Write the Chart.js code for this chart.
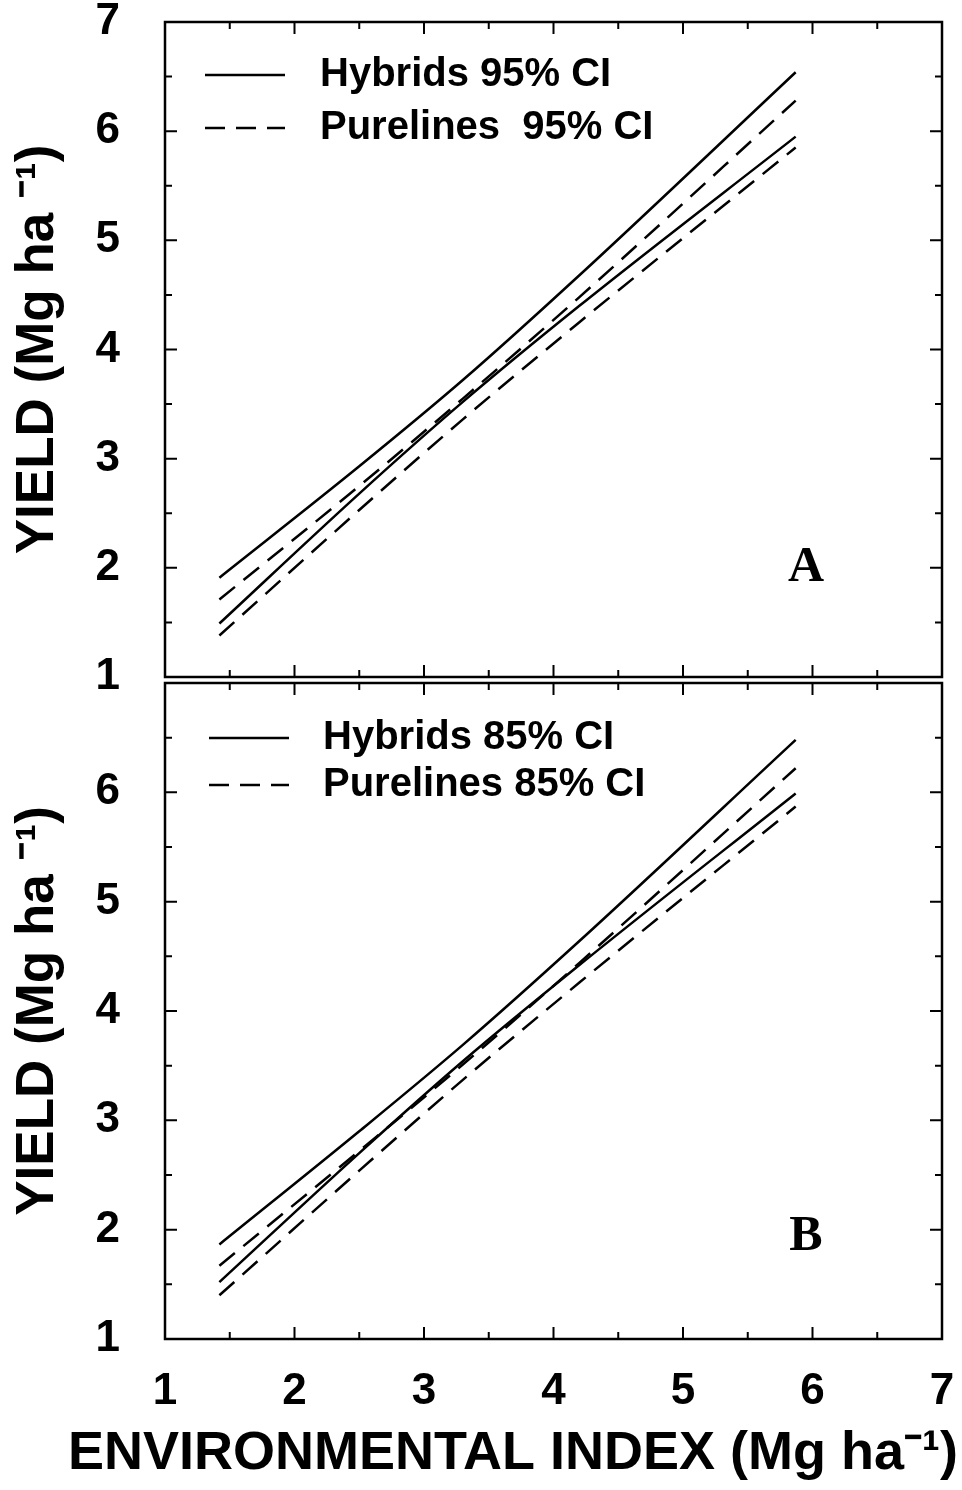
<!DOCTYPE html>
<html>
<head>
<meta charset="utf-8">
<script src="https://cdn.jsdelivr.net/npm/chart.js@4.4.1/dist/chart.umd.min.js"></script>
<style>
  html, body { margin: 0; padding: 0; background: #fff; }
  #wrap { position: relative; width: 962px; height: 1490px; }
  canvas { position: absolute; left: 0; }
  #panelA { top: 0; }
  #panelB { top: 660px; }
</style>
</head>
<body>
<div id="wrap">
  <canvas id="panelA" width="962" height="720"></canvas>
  <canvas id="panelB" width="962" height="830"></canvas>
</div>
<script>
const envIndex = [1.42, 2.5, 3.3, 4.2, 5.87];

// Panel A - 95% confidence limits (Mg/ha)
const hybUpperA  = [1.91, 2.93, 3.72, 4.68, 6.54];
const hybLowerA  = [1.49, 2.68, 3.52, 4.40, 5.95];
const pureUpperA = [1.71, 2.75, 3.55, 4.48, 6.28];
const pureLowerA = [1.38, 2.53, 3.36, 4.25, 5.85];

// Panel B - 85% confidence limits (Mg/ha)
const hybUpperB  = [1.865, 2.90, 3.69, 4.64, 6.48];
const hybLowerB  = [1.52, 2.70, 3.54, 4.42, 5.99];
const pureUpperB = [1.67, 2.72, 3.51, 4.44, 6.22];
const pureLowerB = [1.40, 2.54, 3.37, 4.26, 5.87];

const axisTicks = [1, 2, 3, 4, 5, 6, 7];

const FONT = '"Liberation Sans", Arial, sans-serif';
Chart.defaults.font.family = FONT;
Chart.defaults.color = '#000';
Chart.defaults.animation = false;

function band(label, ys, dashed, inLegend) {
    return {
        label: label,
        data: envIndex.map((x, i) => ({ x: x, y: ys[i] })),
        borderColor: '#000',
        borderWidth: 2.5,
        borderDash: dashed ? [20, 11] : [],
        pointRadius: 0,
        fill: false,
        cubicInterpolationMode: 'monotone',
        inLegend: inLegend,
    };
}

// the tick labels sit far from the axis, so drop the extra edge padding chart.js reserves for them
function noEdgePadding(s) {
    s.paddingTop = 0;
    s.paddingBottom = 0;
    s.paddingLeft = 0;
    s.paddingRight = 0;
}

// box around the plot plus inward ticks on all four sides
const frameTicks = {
    id: 'frameTicks',
    afterDatasetsDraw(chart) {
        const { ctx, chartArea: a, scales: { x, y } } = chart;
        ctx.save();
        ctx.strokeStyle = '#000';
        ctx.lineWidth = 2.5;
        ctx.strokeRect(a.left, a.top, a.right - a.left, a.bottom - a.top);
        ctx.lineWidth = 2;
        ctx.beginPath();
        for (let v = 1.5; v < 7; v += 0.5) {
            const len = Number.isInteger(v) ? 12 : 7;
            const px = x.getPixelForValue(v);
            const py = y.getPixelForValue(v);
            ctx.moveTo(px, a.bottom); ctx.lineTo(px, a.bottom - len);
            ctx.moveTo(px, a.top); ctx.lineTo(px, a.top + len);
            ctx.moveTo(a.left, py); ctx.lineTo(a.left + len, py);
            ctx.moveTo(a.right, py); ctx.lineTo(a.right - len, py);
        }
        ctx.stroke();
        ctx.restore();
    }
};

// legend drawn inside the plot, one row per flagged dataset
const bandLegend = {
    id: 'bandLegend',
    afterDraw(chart, args, opts) {
        const { ctx, chartArea: a } = chart;
        const items = chart.data.datasets.filter(ds => ds.inLegend);
        ctx.save();
        ctx.font = 'bold 40px ' + FONT;
        ctx.textBaseline = 'middle';
        ctx.fillStyle = '#000';
        ctx.strokeStyle = '#000';
        ctx.lineWidth = 2.5;
        items.forEach((ds, i) => {
            const yy = a.top + opts.rowTop + i * opts.rowGap;
            ctx.setLineDash(ds.borderDash);
            ctx.beginPath();
            ctx.moveTo(a.left + opts.lineStart, yy);
            ctx.lineTo(a.left + opts.lineStart + 80, yy);
            ctx.stroke();
            ctx.setLineDash([]);
            ctx.fillText(ds.label, a.left + opts.textStart, yy);
        });
        // panel letter
        ctx.font = 'bold 50px "Liberation Serif", "Times New Roman", serif';
        ctx.textAlign = 'center';
        ctx.fillText(opts.letter,
            chart.scales.x.getPixelForValue(opts.letterAt[0]),
            chart.scales.y.getPixelForValue(opts.letterAt[1]));
        ctx.restore();
    }
};

function createPanel(canvasId, datasets, cfg) {
    const ctx = document.getElementById(canvasId);
    if (!ctx) return;
    return new Chart(ctx, {
        type: 'line',
        data: { datasets: datasets },
        plugins: [frameTicks, bandLegend],
        options: {
            responsive: false,
            layout: { padding: { top: cfg.padTop, left: 0, right: 4, bottom: 0 } },
            plugins: {
                legend: { display: false },
                tooltip: { enabled: false },
                title: cfg.xTitle ? {
                    display: true,
                    text: 'ENVIRONMENTAL INDEX (Mg ha\u207B\u00B9)',
                    position: 'bottom',
                    align: 'end',
                    font: { size: 54, weight: 'bold', lineHeight: 1.2 },
                    padding: { top: 0, bottom: 3 },
                } : { display: false },
                bandLegend: cfg.legend,
            },
            scales: {
                x: {
                    type: 'linear',
                    min: 1,
                    max: 7,
                    afterBuildTicks: s => { s.ticks = axisTicks.map(v => ({ value: v })); },
                    ticks: { display: cfg.xLabels, font: { size: 44, weight: 'bold' }, padding: 26 },
                    grid: { display: false, drawTicks: false },
                    border: { display: false },
                    afterFit: s => { s.height = cfg.xHeight; noEdgePadding(s); },
                },
                y: {
                    min: 1,
                    max: 7,
                    afterBuildTicks: s => { s.ticks = axisTicks.map(v => ({ value: v })); },
                    ticks: {
                        font: { size: 44, weight: 'bold' },
                        padding: 45,
                        callback: v => (cfg.hideTop && v === 7) ? '' : v,
                    },
                    grid: { display: false, drawTicks: false },
                    border: { display: false },
                    title: {
                        display: true,
                        text: 'YIELD (Mg ha \u207B\u00B9)',
                        font: { size: 53, weight: 'bold', lineHeight: 1.2 },
                        padding: { top: 7, bottom: 0 },
                    },
                    afterFit: s => { s.width = 165; noEdgePadding(s); },
                },
                yr: {
                    position: 'right',
                    ticks: { display: false },
                    grid: { display: false, drawTicks: false },
                    border: { display: false },
                    afterFit: s => { s.width = 16; noEdgePadding(s); },
                },
            }
        }
    });
}

createPanel('panelA', [
    band('Hybrids 95% CI', hybUpperA, false, true),
    band('Hybrids 95% CI', hybLowerA, false, false),
    band('Purelines  95% CI', pureUpperA, true, true),
    band('Purelines  95% CI', pureLowerA, true, false),
], {
    padTop: 22, xHeight: 43, xLabels: false, xTitle: false, hideTop: false,
    legend: { rowTop: 53, rowGap: 53, lineStart: 40, textStart: 155, letter: 'A', letterAt: [5.95, 2.0] },
});

createPanel('panelB', [
    band('Hybrids 85% CI', hybUpperB, false, true),
    band('Hybrids 85% CI', hybLowerB, false, false),
    band('Purelines 85% CI', pureUpperB, true, true),
    band('Purelines 85% CI', pureLowerB, true, false),
], {
    padTop: 23, xHeight: 83.2, xLabels: true, xTitle: true, hideTop: true,
    legend: { rowTop: 55, rowGap: 47, lineStart: 44, textStart: 158, letter: 'B', letterAt: [5.95, 1.93] },
});
</script>
</body>
</html>
